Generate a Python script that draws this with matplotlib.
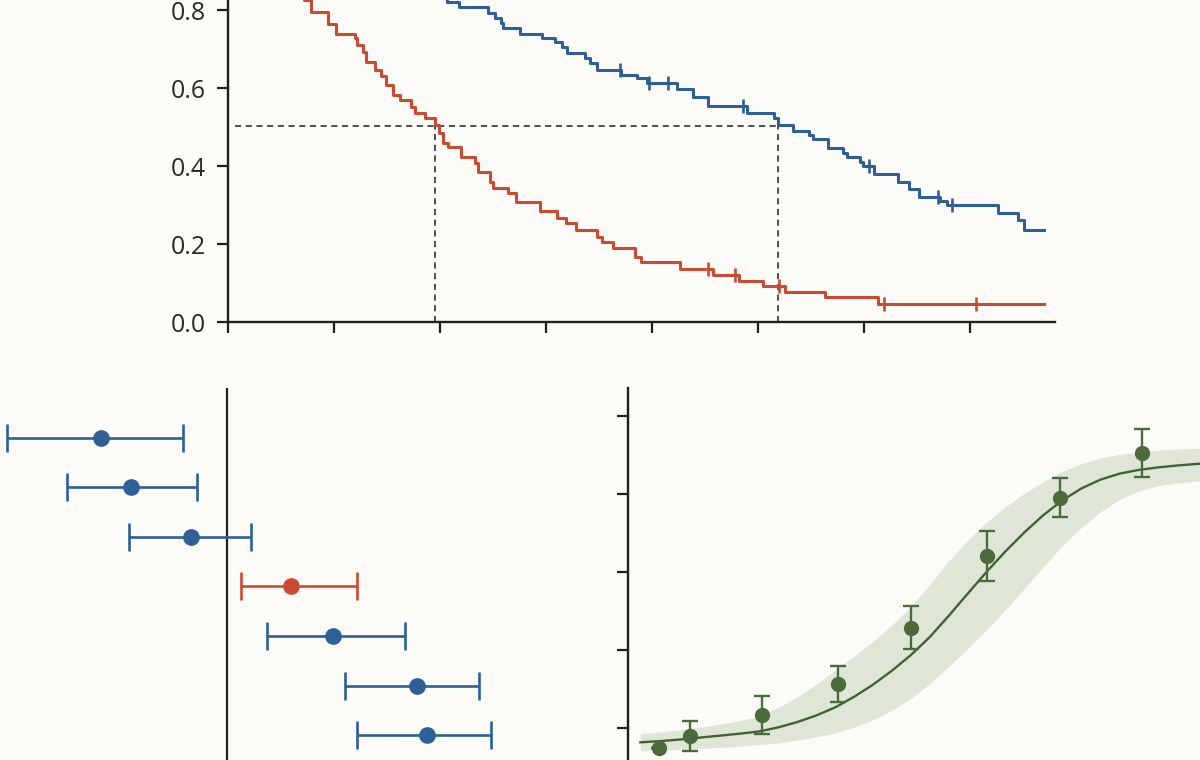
import numpy as np
import matplotlib
matplotlib.use("Agg")
import matplotlib.pyplot as plt

plt.rcParams['font.family'] = ['Open Sans', 'DejaVu Sans']

# ---- survival curves (months, survival prob) ----
red_t = [0, 0.6, 1.2, 1.8, 2.4, 2.9, 3.3, 3.7, 4.0, 4.3,
         4.68, 5.66, 6.13, 7.17, 7.32, 7.64, 7.83, 8.30, 8.68, 8.96,
         9.34, 9.72, 10.34, 10.57, 11.17, 11.70, 11.93, 12.17, 12.45, 13.21,
         13.96, 14.15, 14.81, 15.0, 15.87, 16.30, 17.66, 18.64, 19.13, 19.70,
         20.87, 21.15, 21.81, 23.04, 23.36, 25.58, 27.47, 28.94, 30.26, 31.53,
         33.79, 36.8, 46.2]
red_s = [1.0, 0.98, 0.96, 0.94, 0.92, 0.90, 0.88, 0.86, 0.845, 0.828,
         0.797, 0.765, 0.741, 0.729, 0.712, 0.694, 0.669, 0.647, 0.632, 0.609,
         0.583, 0.571, 0.552, 0.536, 0.524, 0.506, 0.485, 0.459, 0.451, 0.425,
         0.408, 0.387, 0.361, 0.344, 0.331, 0.310, 0.287, 0.267, 0.254, 0.237,
         0.218, 0.206, 0.190, 0.169, 0.154, 0.136, 0.122, 0.107, 0.094, 0.079,
         0.065, 0.047, 0.047]
red_cens = [27.19, 28.7, 31.17, 37.13, 42.34]

blue_t = [0, 1.5, 3.0, 4.5, 6.0, 7.5, 9.0, 10.5, 11.8, 12.4,
          13.1, 14.73, 15.1, 15.47, 15.59, 16.53, 17.76, 18.51, 18.89, 19.17,
          20.21, 20.49, 20.9, 22.23, 23.13, 23.7, 25.4, 26.3, 27.19, 29.36,
          30.87, 31.15, 32.0, 32.9, 33.1, 33.95, 34.83, 35.02, 35.77, 35.96,
          36.53, 37.94, 38.56, 39.13, 40.3, 40.68, 43.6, 44.73, 45.06, 46.2]
blue_s = [1.0, 0.98, 0.96, 0.94, 0.92, 0.90, 0.88, 0.86, 0.84, 0.822,
          0.808, 0.793, 0.780, 0.767, 0.756, 0.741, 0.729, 0.718, 0.706, 0.690,
          0.677, 0.665, 0.647, 0.635, 0.626, 0.613, 0.598, 0.577, 0.555, 0.538,
          0.524, 0.506, 0.492, 0.481, 0.470, 0.447, 0.434, 0.425, 0.412, 0.400,
          0.381, 0.361, 0.342, 0.323, 0.312, 0.301, 0.282, 0.263, 0.237, 0.237]
blue_cens = [22.19, 23.85, 24.92, 29.13, 36.3, 40.2, 40.96]

red_median = 11.7
blue_median = 31.15
median_level = 0.505
km_xticks = [0, 6, 12, 18, 24, 30, 36, 42]
km_yticks = [0.0, 0.2, 0.4, 0.6, 0.8, 1.0]

# ---- forest plot ----
forest_est = [-0.63, -0.48, -0.18, 0.32, 0.53, 0.95, 1.00]
forest_lo = [-1.10, -0.80, -0.49, 0.07, 0.20, 0.59, 0.65]
forest_hi = [-0.22, -0.15, 0.12, 0.65, 0.89, 1.26, 1.32]
forest_hilite = [False, False, False, True, False, False, False]

# ---- dose response (log10 dose, % response) ----
dose_x = [-3.33, -2.92, -1.97, -0.96, 0.0, 1.0, 1.97, 3.05]
resp_y = [-6.3, -2.6, 4.2, 14.1, 32.2, 55.1, 73.8, 88.2]
resp_err = [0, 4.9, 6.0, 5.9, 7.0, 8.1, 6.2, 7.6]

fit_x = [-3.57, -3.25, -3.0, -2.75, -2.5, -2.25, -2.0, -1.75, -1.5, -1.25,
         -1.0, -0.75, -0.5, -0.25, 0.0, 0.25, 0.5, 0.75, 1.0, 1.25,
         1.5, 1.75, 2.0, 2.25, 2.5, 2.75, 3.0, 3.25, 3.5, 3.75, 4.0]
fit_y = [-4.6, -4.1, -3.6, -3.0, -2.4, -1.8, -1.1, 0.2, 1.9, 4.0,
         6.6, 10.0, 13.9, 18.4, 23.4, 29.2, 36.0, 43.1, 50.1, 56.7,
         62.8, 68.3, 73.0, 76.8, 79.6, 81.5, 82.7, 83.5, 84.1, 84.6, 85.0]
fit_hi = [-1.8, -1.1, -0.4, 0.4, 1.3, 2.4, 3.8, 6.6, 10.0, 14.0,
          18.5, 23.0, 27.8, 33.0, 39.0, 46.0, 53.6, 60.2, 66.0, 71.0,
          75.3, 79.0, 82.3, 84.7, 86.5, 87.7, 88.5, 89.0, 89.4, 89.6, 89.8]
fit_lo = [-7.3, -7.0, -6.8, -6.5, -6.2, -5.8, -5.3, -4.8, -3.9, -2.9,
          -1.6, 0.3, 2.6, 5.7, 9.5, 14.2, 19.8, 25.5, 31.5, 38.0,
          44.8, 51.8, 58.5, 64.3, 69.3, 73.2, 76.0, 77.6, 78.5, 79.1, 79.5]
resp_yticks = [0, 25, 50, 75, 100]

BG = '#fcfbf7'
BLUE = '#2e5f97'
RED = '#c94b32'
GREEN = '#4c6b3d'
GREEN_LINE = '#40622f'
BAND = '#dfe6d8'
INK = '#1f1f1f'

fig = plt.figure(figsize=(12, 7.6), dpi=100, facecolor=BG)

# top: Kaplan-Meier
ax = fig.add_axes([228/1200, (760-322.5)/760, 827/1200, 390/760], facecolor=BG)
ax.set_xlim(0, 46.8)
ax.set_ylim(0, 1.0)


def surv_at(ts, ss, c):
    i = np.searchsorted(ts, c, side='right') - 1
    return ss[i]


for ts, ss, cens, col in [(red_t, red_s, red_cens, RED), (blue_t, blue_s, blue_cens, BLUE)]:
    ax.step(ts, ss, where='post', color=col, lw=2.2, zorder=3)
    cy = [surv_at(ts, ss, c) for c in cens]
    ax.plot(cens, cy, ls='none', marker='|', ms=10, mew=1.9, color=col, zorder=4)

ax.hlines(median_level, 0.4, blue_median, colors=INK, linestyles=(0, (4, 3)), lw=1.1, zorder=2)
ax.vlines([red_median, blue_median], 0, median_level, colors=INK,
          linestyles=(0, (4, 3)), lw=1.1, zorder=2)

for s in ['top', 'right']:
    ax.spines[s].set_visible(False)
for s in ['left', 'bottom']:
    ax.spines[s].set_linewidth(1.7)
    ax.spines[s].set_color(INK)
ax.set_xticks(km_xticks)
ax.set_yticks(km_yticks)
ax.set_yticklabels([f'{v:.1f}' for v in km_yticks])
ax.tick_params(axis='both', direction='out', length=8, width=1.6, color=INK,
               labelsize=18, labelcolor='#2a2a2a', pad=8)
ax.tick_params(axis='x', labelbottom=False)

# bottom left: forest plot
axf = fig.add_axes([0, 0, 600/1200, 372/760], facecolor=BG)
axf.set_xlim(-1.135, 1.865)
axf.set_ylim(7.5, 0.0)
axf.axvline(0, color=INK, lw=1.6, zorder=1)
rows = np.arange(1, len(forest_est) + 1)
for r, e, lo, hi, hl in zip(rows, forest_est, forest_lo, forest_hi, forest_hilite):
    col = RED if hl else BLUE
    axf.errorbar([e], [r], xerr=[[e - lo], [hi - e]], fmt='o', color=col, ms=11,
                 elinewidth=1.9, capsize=10, capthick=1.9, zorder=3)
axf.axis('off')

# bottom right: dose response
axd = fig.add_axes([628/1200, 0, 572/1200, 372/760], facecolor=BG)
axd.set_xlim(-3.733, 3.813)
axd.set_ylim(-10.26, 108.97)
axd.fill_between(fit_x, fit_lo, fit_hi, color=BAND, lw=0, zorder=1)
axd.plot(fit_x, fit_y, color=GREEN_LINE, lw=1.7, zorder=2)
axd.errorbar(dose_x, resp_y, yerr=resp_err, fmt='o', color=GREEN, ms=10,
             elinewidth=1.7, capsize=6, capthick=1.7, zorder=3)
for s in ['top', 'right', 'bottom']:
    axd.spines[s].set_visible(False)
axd.spines['left'].set_linewidth(1.7)
axd.spines['left'].set_color(INK)
axd.set_yticks(resp_yticks)
axd.set_xticks([])
axd.tick_params(axis='y', direction='out', length=8, width=1.6, color=INK, labelleft=False)

fig.savefig('out.png', dpi=100, facecolor=BG)
